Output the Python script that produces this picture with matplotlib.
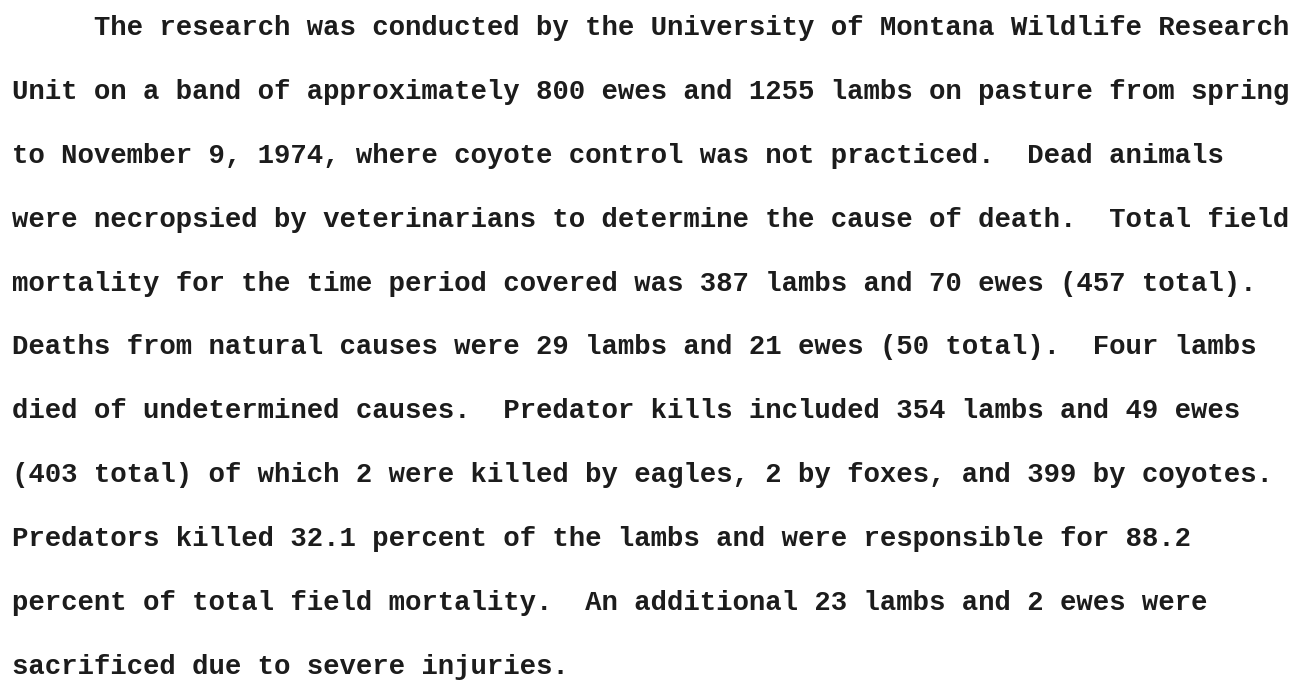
import matplotlib
matplotlib.use('Agg')
import matplotlib.pyplot as plt

# typed paragraph, one entry per line as on the page
lines = [
    "     The research was conducted by the University of Montana Wildlife Research",
    "Unit on a band of approximately 800 ewes and 1255 lambs on pasture from spring",
    "to November 9, 1974, where coyote control was not practiced.  Dead animals",
    "were necropsied by veterinarians to determine the cause of death.  Total field",
    "mortality for the time period covered was 387 lambs and 70 ewes (457 total).",
    "Deaths from natural causes were 29 lambs and 21 ewes (50 total).  Four lambs",
    "died of undetermined causes.  Predator kills included 354 lambs and 49 ewes",
    "(403 total) of which 2 were killed by eagles, 2 by foxes, and 399 by coyotes.",
    "Predators killed 32.1 percent of the lambs and were responsible for 88.2",
    "percent of total field mortality.  An additional 23 lambs and 2 ewes were",
    "sacrificed due to severe injuries.",
]

W, H = 1309, 689
fig = plt.figure(figsize=(W / 100, H / 100), dpi=100)
ax = fig.add_axes([0, 0, 1, 1])
ax.set_xlim(0, W)
ax.set_ylim(H, 0)
ax.axis('off')

left = 12
first_baseline = 35
spacing = 63.9

for i, line in enumerate(lines):
    ax.text(left, first_baseline + i * spacing, line,
            family='Liberation Mono', fontsize=19.7, fontweight='bold',
            color='#1c1c1c', ha='left', va='baseline')

fig.savefig('out.png', dpi=100, facecolor='white')
